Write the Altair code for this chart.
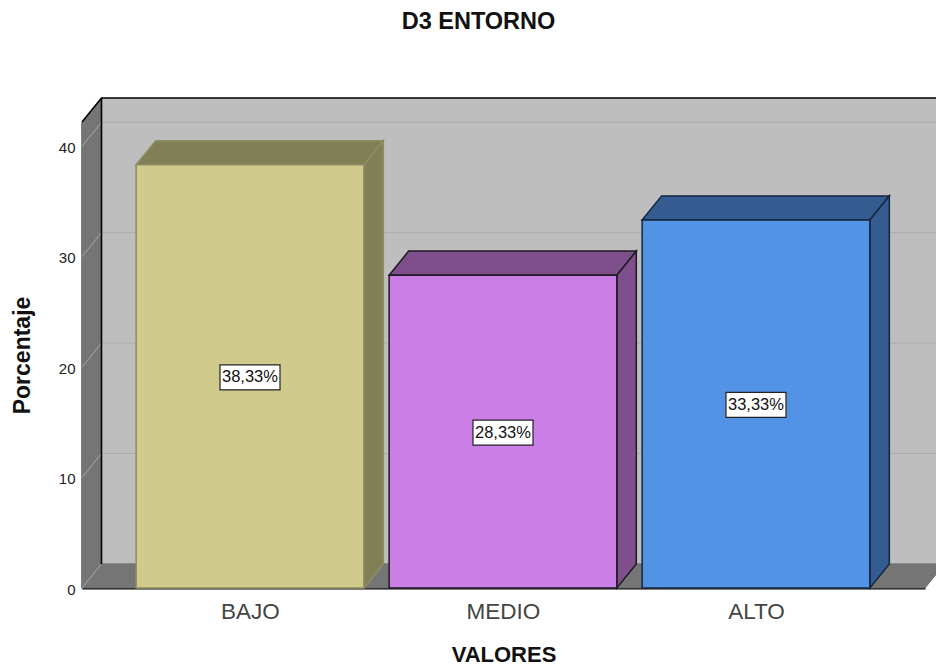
import altair as alt
import pandas as pd

categories = ["BAJO", "MEDIO", "ALTO"]
values = [38.33, 28.33, 33.33]
front_colors = ["#D0CB8D", "#CB7FE6", "#5393E6"]
shade_colors = ["#807F55", "#7F4F8C", "#355C91"]
edge_colors = ["#8F8D62", "#1E1A24", "#14263F"]
y_ticks = [10, 20, 30, 40]

# Extent of the 3D box, in data units
X_MIN, X_MAX = 0.336, 3.668
Y_MAX = 42.2
DX, DY = 0.077, 2.18
BAR_HALF = 0.45
FAR_X = X_MAX + 0.2

x_scale = alt.Scale(domain=[X_MIN, X_MAX], nice=False, zero=False)
y_scale = alt.Scale(domain=[0, Y_MAX], nice=False, zero=False)
x_enc = alt.X(
    "x:Q",
    scale=x_scale,
    title="VALORES",
    axis=alt.Axis(
        values=[1, 2, 3],
        labelExpr="['BAJO','MEDIO','ALTO'][datum.value - 1]",
        tickSize=0,
        grid=False,
        domainColor="#000000",
        domainWidth=2,
        labelFont="Liberation Sans",
        labelFontSize=22.5,
        labelColor="#444444",
        labelPadding=12,
        titleFont="Liberation Sans",
        titleFontSize=22,
        titleFontWeight="bold",
        titleColor="#111111",
        titlePadding=22,
    ),
)
y_enc = alt.Y(
    "y:Q",
    scale=y_scale,
    title="Porcentaje",
    stack=None,
    axis=alt.Axis(
        values=[0] + y_ticks,
        tickSize=0,
        grid=False,
        domainColor="#000000",
        domainWidth=2,
        labelFont="Liberation Sans",
        labelFontSize=15,
        labelColor="#222222",
        labelPadding=7,
        labelOffset=1,
        titleFont="Liberation Sans",
        titleFontSize=23,
        titleFontWeight="bold",
        titleColor="#111111",
        titlePadding=24,
    ),
)

# Flat faces of the box and the bars, as (x, y, y2) outlines
faces = []


def add_face(name, fill, stroke, width, points):
    for x, y, y2 in points:
        faces.append(dict(face=name, fill=fill, stroke=stroke, sw=width, x=x, y=y, y2=y2))


add_face("left", "#757575", "#757575", 0, [(X_MIN, Y_MAX, 0), (X_MIN + DX, Y_MAX + DY, DY)])
add_face(
    "floor", "#757575", "#6A6A6A", 1,
    [(X_MIN, 0, 0), (X_MIN + DX, DY, 0), (X_MAX, DY, 0), (X_MAX + DX, DY, DY)],
)
box_faces = pd.DataFrame(faces)

bar_faces = []
for i, (cat, v) in enumerate(zip(categories, values)):
    x0, x1 = i + 1 - BAR_HALF, i + 1 + BAR_HALF
    common = dict(fill=shade_colors[i], stroke=edge_colors[i])
    for x, y, y2 in [(x0, v, v), (x0 + DX, v + DY, v), (x1, v + DY, v), (x1 + DX, v + DY, v + DY)]:
        bar_faces.append(dict(face=cat + "-top", x=x, y=y, y2=y2, **common))
    for x, y, y2 in [(x1, v, 0), (x1 + DX, v + DY, DY)]:
        bar_faces.append(dict(face=cat + "-side", x=x, y=y, y2=y2, **common))
bar_faces = pd.DataFrame(bar_faces)

bars = pd.DataFrame(
    {
        "x": [i + 1 - BAR_HALF for i in range(3)],
        "x2": [i + 1 + BAR_HALF for i in range(3)],
        "y": values,
        "y2": [0, 0, 0],
        "fill": front_colors,
        "stroke": edge_colors,
    }
)
labels = pd.DataFrame(
    {
        "x": [1, 2, 3],
        "y": [v / 2 for v in values],
        "text": [f"{v:.2f}%".replace(".", ",") for v in values],
    }
)

wall = (
    alt.Chart(pd.DataFrame({"x": [X_MIN + DX], "x2": [FAR_X], "y": [DY], "y2": [Y_MAX + DY]}))
    .mark_rect(color="#BEBEBE")
    .encode(x=x_enc, x2="x2:Q", y=y_enc, y2="y2:Q")
)

back_grid = (
    alt.Chart(pd.DataFrame({"y": [t + DY for t in y_ticks], "x": [X_MIN + DX] * 4, "x2": [FAR_X] * 4}))
    .mark_rule(color="#ABABAB", strokeWidth=1)
    .encode(x=x_enc, x2="x2:Q", y=y_enc)
)

box = (
    alt.Chart(box_faces)
    .mark_area(interpolate="linear", opacity=1)
    .encode(
        x=x_enc,
        y=y_enc,
        y2="y2:Q",
        detail="face:N",
        fill=alt.Fill("fill:N", scale=None),
        stroke=alt.Stroke("stroke:N", scale=None),
        strokeWidth=alt.StrokeWidth("sw:Q", scale=None),
    )
)

side_rows = [
    dict(g=f"t{t}", x=x, y=y)
    for t in [0] + y_ticks
    for x, y in [(X_MIN, t), (X_MIN + DX, t + DY)]
]
side_grid = (
    alt.Chart(pd.DataFrame(side_rows))
    .mark_line(color="#A8A8A8", strokeWidth=1)
    .encode(x=x_enc, y=y_enc, detail="g:N")
)

outline_rows = [
    dict(g="top", o=0, x=X_MIN, y=Y_MAX),
    dict(g="top", o=1, x=X_MIN + DX, y=Y_MAX + DY),
    dict(g="top", o=2, x=FAR_X, y=Y_MAX + DY),
    dict(g="back", o=0, x=X_MIN + DX, y=Y_MAX + DY),
    dict(g="back", o=1, x=X_MIN + DX, y=DY),
]
outline = (
    alt.Chart(pd.DataFrame(outline_rows))
    .mark_line(color="#000000", strokeWidth=1.6)
    .encode(x=x_enc, y=y_enc, detail="g:N", order="o:Q")
)

bar_shades = (
    alt.Chart(bar_faces)
    .mark_area(interpolate="linear", strokeWidth=1.5, opacity=1)
    .encode(
        x=x_enc,
        y=y_enc,
        y2="y2:Q",
        detail="face:N",
        fill=alt.Fill("fill:N", scale=None),
        stroke=alt.Stroke("stroke:N", scale=None),
    )
)
bar_fronts = (
    alt.Chart(bars)
    .mark_rect(strokeWidth=1.5)
    .encode(
        x=x_enc,
        x2="x2:Q",
        y=y_enc,
        y2="y2:Q",
        fill=alt.Fill("fill:N", scale=None),
        stroke=alt.Stroke("stroke:N", scale=None),
    )
)

label_boxes = (
    alt.Chart(labels)
    .mark_rect(width=60, height=25, fill="#FFFFFF", stroke="#222222", strokeWidth=1.2, yOffset=1)
    .encode(x=x_enc, y=y_enc)
)
label_text = (
    alt.Chart(labels)
    .mark_text(font="Liberation Sans", fontSize=16.5, color="#111111", align="center", baseline="middle", dy=1)
    .encode(x=x_enc, y=y_enc, text="text:N")
)

chart = (
    alt.layer(wall, back_grid, box, side_grid, outline, bar_shades, bar_fronts, label_boxes, label_text)
    .properties(
        width=843,
        height=466,
        padding={"left": 82, "top": 122, "right": 11, "bottom": 81},
        autosize=alt.AutoSizeParams(type="none"),
        background="#FFFFFF",
        title=alt.TitleParams(
            "D3 ENTORNO",
            font="Liberation Sans",
            fontSize=23.5,
            fontWeight="bold",
            color="#111111",
            anchor="middle",
            dx=-25,
            offset=61,
        ),
    )
    .configure_view(stroke=None)
)

chart.save("out.html", embed_options={"renderer": "svg", "actions": False})
